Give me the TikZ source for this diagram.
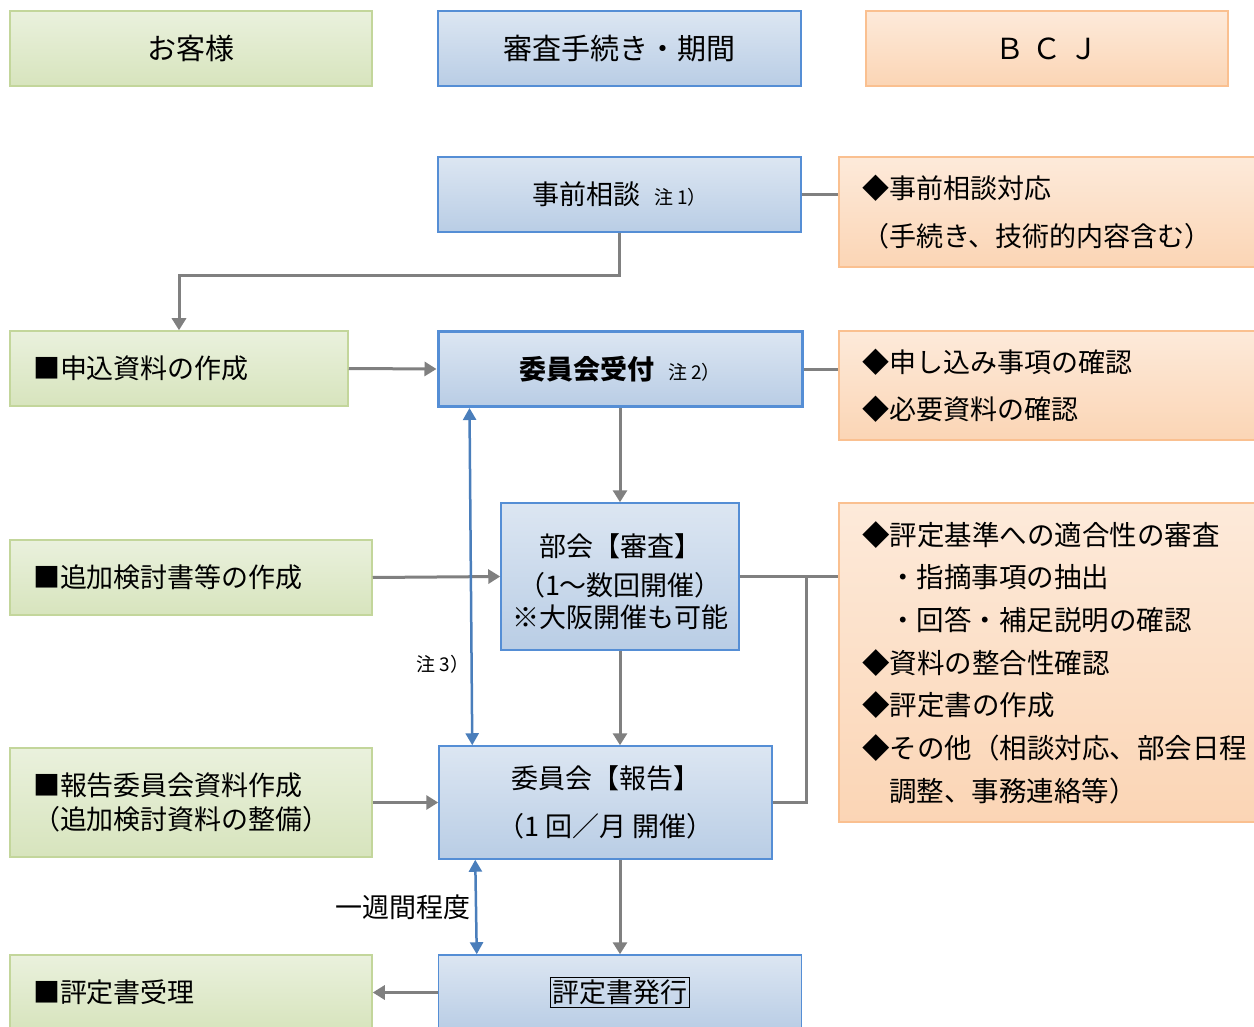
\documentclass[tikz,border=0pt]{standalone}
\usepackage{fontspec}
\setmainfont{Noto Sans CJK JP}
\usetikzlibrary{arrows.meta, calc}

\definecolor{greentop}{HTML}{EAF1DD}
\definecolor{greenbot}{HTML}{D7E4BD}
\definecolor{greenline}{HTML}{C3D69B}
\definecolor{bluetop}{HTML}{DCE6F2}
\definecolor{bluebot}{HTML}{B9CDE5}
\definecolor{blueline}{HTML}{558ED5}
\definecolor{orangetop}{HTML}{FDEADA}
\definecolor{orangebot}{HTML}{FBD5B5}
\definecolor{orangeline}{HTML}{FAC090}
\definecolor{flowgray}{HTML}{808080}
\definecolor{spanblue}{HTML}{4A7EBB}

\newcommand\chu[1]{{\fontsize{19}{21}\selectfont #1}}
\setlength\fboxsep{1.5pt}
\setlength\fboxrule{1.2pt}

\begin{document}
\begin{tikzpicture}[x=1pt, y=-1pt,
  font=\fontsize{27}{34}\selectfont,
  gbox/.style={draw=greenline, line width=1.5pt, top color=greentop, bottom color=greenbot, minimum height=75pt},
  gtext/.style={gbox, text width=#1, inner xsep=23pt, align=left},
  bbox/.style={draw=blueline, line width=1.5pt, top color=bluetop, bottom color=bluebot, minimum height=75pt},
  ofill/.style={draw=orangeline, line width=1.5pt, top color=orangetop, bottom color=orangebot},
  obox/.style={ofill, minimum width=430pt, text width=384pt, inner xsep=23pt, align=left},
  head/.style={font=\fontsize{29}{34}\selectfont},
  flow/.style={draw=flowgray, line width=3pt, -{Triangle[length=12pt,width=14pt]}},
  link/.style={draw=flowgray, line width=3pt},
  span/.style={draw=spanblue, line width=2.5pt, {Triangle[length=12pt,width=13pt]}-{Triangle[length=12pt,width=13pt]}}]
  \useasboundingbox (0,0) rectangle (1254,1027);

  % column heads
  \node[gbox, head, minimum width=362pt] (kyaku) at (191,48.5) {お客様};
  \node[bbox, head, minimum width=363pt] (kikan) at (619.5,48.5) {審査手続き・期間};
  \node[ofill, head, minimum width=362pt, minimum height=75pt] (bcj) at (1047,48.5) {Ｂ\;Ｃ\;Ｊ};

  % consultation
  \node[bbox, minimum width=363pt] (jizen) at (619.5,194.5) {事前相談\hspace{14pt}\chu{注 1）}};
  \node[obox, minimum height=110pt, font=\fontsize{27}{48}\selectfont] (taiou) at (1054,212) {◆事前相談対応\\（手続き、技術的内容含む）};

  % application
  \node[gtext=292pt, minimum width=338pt] (moushikomi) at (179,368.5) {■申込資料の作成};
  \node[bbox, minimum width=364pt, line width=3pt] (uketsuke) at (620,369) {\bfseries 委員会受付\hspace{14pt}\mdseries\chu{注 2）}};
  \node[obox, minimum height=109pt, font=\fontsize{27}{47}\selectfont] (kakunin) at (1054,385.5) {◆申し込み事項の確認\\◆必要資料の確認};

  % review
  \node[gtext=316pt, minimum width=362pt] (tsuika) at (191,577.5) {■追加検討書等の作成};
  \node[bbox, minimum width=238pt, minimum height=147pt, align=center, font=\fontsize{27}{32}\selectfont] (bukai) at (620,576.5) {\rule{0pt}{34pt}部会【審査】\\[7pt]（1～数回開催）\\※大阪開催も可能};
  \node[obox, minimum height=319pt, font=\fontsize{27.5}{42.7}\selectfont] (shinsa) at (1054,662.5) {◆評定基準への適合性の審査\\\hspace*{27pt}・指摘事項の抽出\\\hspace*{27pt}・回答・補足説明の確認\\◆資料の整合性確認\\◆評定書の作成\\◆その他（相談対応、部会日程\\\hspace*{27pt}調整、事務連絡等）};

  % report
  \node[gtext=316pt, minimum width=362pt, minimum height=109pt, font=\fontsize{27}{34}\selectfont] (houkokushiryou) at (191,802.5) {■報告委員会資料作成\\（追加検討資料の整備）};
  \node[bbox, minimum width=333pt, minimum height=113pt, align=center, font=\fontsize{27}{48}\selectfont] (houkoku) at (605.5,802.5) {委員会【報告】\\（1 回／月\ 開催）};

  % issue
  \node[bbox, minimum width=363pt] (hakkou) at (620,992.5) {\fbox{評定書発行}};
  \node[gtext=316pt, minimum width=362pt] (juri) at (191,992.5) {■評定書受理};

  % connectors
  \draw[link] (jizen.east) -- (jizen.east -| taiou.west);
  \draw[flow] (jizen.south) -- ++(0,43) -| (moushikomi.north);
  \draw[flow] (moushikomi.east) -- (uketsuke.west);
  \draw[link] (uketsuke.east) -- (uketsuke.east -| kakunin.west);
  \draw[flow] (uketsuke.south) -- (bukai.north);
  \draw[flow] (tsuika.east) -- (bukai.west);
  \draw[link] (bukai.east) -- (bukai.east -| shinsa.west);
  \draw[link] (houkoku.east) -- ++(34,0) |- (bukai.east);
  \draw[flow] (bukai.south) -- (bukai.south |- houkoku.north);
  \draw[flow] (houkokushiryou.east) -- (houkoku.west);
  \draw[flow] (houkoku.south -| hakkou.north) -- (hakkou.north);
  \draw[flow] (hakkou.west) -- (juri.east);

  % periods
  \draw[span] ($(uketsuke.south west)+(33,0)$) -- ($(houkoku.north west)+(34,0)$)
    node[pos=0.76, left, inner sep=1pt] {\chu{注 3）}};
  \draw[span] ($(houkoku.south west)+(37,0)$) -- ($(hakkou.north west)+(39,0)$)
    node[midway, left, inner sep=4pt] {一週間程度};
\end{tikzpicture}
\end{document}
